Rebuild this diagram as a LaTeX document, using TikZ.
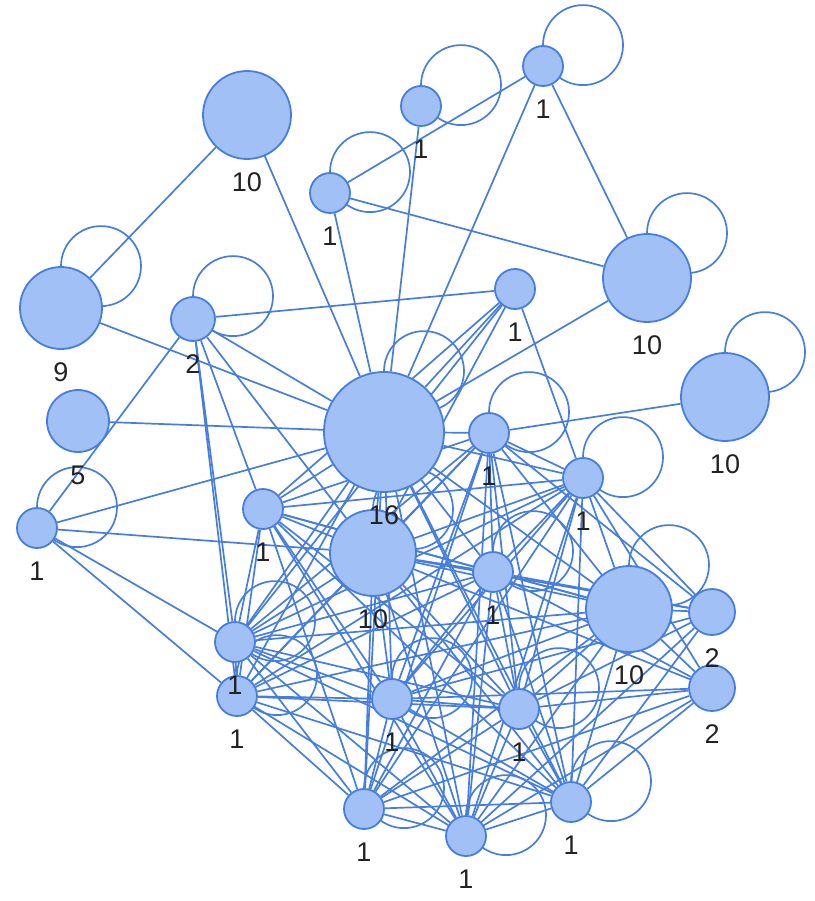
\documentclass[tikz,border=0pt]{standalone}
\usepackage{fontspec}
\setmainfont{Liberation Sans}
\usetikzlibrary{backgrounds}
\definecolor{nfill}{RGB}{160,192,246}
\definecolor{nline}{RGB}{70,125,225}
\definecolor{ltext}{RGB}{34,34,34}
\tikzset{
  vtx/.style={circle,fill=nfill,draw=nline,line width=1.8pt,inner sep=0pt,minimum size=#1},
  edge/.style={draw=nline,line width=1.7pt},
  lab/.style={text=ltext,font=\fontsize{27}{27}\selectfont,inner sep=0pt}
}
\begin{document}
\begin{tikzpicture}[x=1pt,y=-1pt]
\useasboundingbox (0,0) rectangle (814,901);
% nodes: name/x/y/r/label
\foreach \n/\x/\y/\r/\l in {
 A/247/115/44/10, B/421/106/20/1, C/543/66/20/1, D/330/193/20/1,
 E/61/308/41/9, F/193/319/22/2, G/515/289/20/1, H/647/278/44/10,
 I/78/421/31/5, J/384/432/60/16, K/725/397/44/10, L/489/433/20/1,
 M/583/478/20/1, N/37/528/20/1, O/263/509/20/1, P/373/553/43/10,
 Q/493/572/20/1, R/629/609/43/10, S/712/612/23/2, T/235/642/20/1,
 U/237/696/20/1, V/712/688/23/2, W/392/699/20/1, X/519/709/20/1,
 Y/364/809/20/1, Z/466/836/20/1, AA/571/802/20/1}{
  \node[vtx=2*\r pt] (\n) at (\x,\y) {};
  \coordinate (\n lab) at (\x,\y+\r+23);
}
\begin{pgfonlayer}{background}
% self-loops
\foreach \n in {B,C,D,E,F,H,J,K,L,M,N,P,Q,R,T,U,W,X,Y,Z,AA}{
  \draw[edge] ([xshift=40pt]\n.north) circle[radius=40pt];
}
% outer edges
\foreach \a/\b in {A/E, A/J, B/J, C/D, C/J, C/H, D/J, D/H, E/J, H/J, I/J, K/L,
  F/N, F/T, F/U, F/O, F/P, F/J, F/G,
  G/J, G/O, G/P, G/T, G/M,
  N/J, N/P, N/T, N/U,
  S/R, S/M, S/L, S/Q, S/P, S/X, S/AA, S/Z, S/W,
  V/R, V/M, V/Q, V/P, V/X, V/AA, V/Z, V/Y, V/W}{
  \draw[edge] (\a) -- (\b);
}
% dense cluster
\foreach \a [count=\i] in {J,L,M,O,P,Q,R,T,U,W,X,Y,Z,AA}{
  \foreach \b [count=\j] in {J,L,M,O,P,Q,R,T,U,W,X,Y,Z,AA}{
    \ifnum\j>\i \draw[edge] (\a) -- (\b); \fi
  }
}
\end{pgfonlayer}
% labels
\foreach \n/\l in {A/10,B/1,C/1,D/1,E/9,F/2,G/1,H/10,I/5,J/16,K/10,L/1,M/1,N/1,
  O/1,P/10,Q/1,R/10,S/2,T/1,U/1,V/2,W/1,X/1,Y/1,Z/1,AA/1}{
  \node[lab] (\n t) at (\n lab) {\l};
}
\end{tikzpicture}
\end{document}
